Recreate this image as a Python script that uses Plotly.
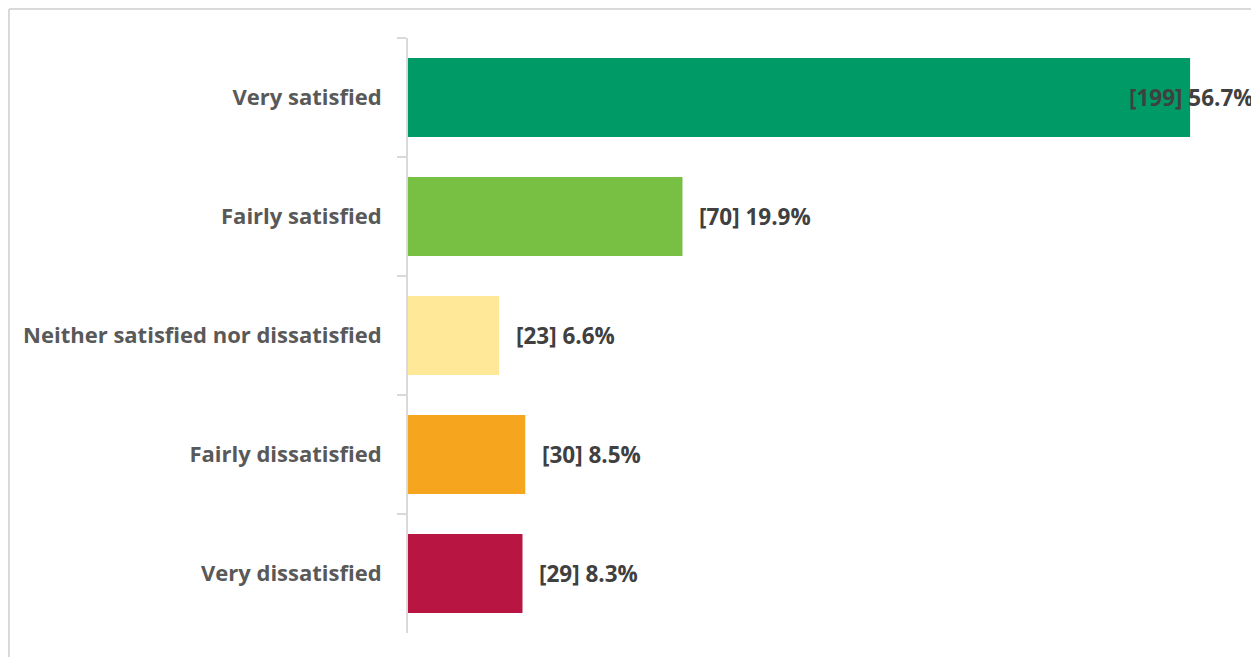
import plotly.graph_objects as go

categories = ['Very satisfied', 'Fairly satisfied', 'Neither satisfied nor dissatisfied',
              'Fairly dissatisfied', 'Very dissatisfied']
counts = [199, 70, 23, 30, 29]
percents = [56.7, 19.9, 6.6, 8.5, 8.3]
bar_colors = ['#009A66', '#77C044', '#FFE897', '#F6A61E', '#B81543']

# page body has an 8px margin, so the figure is a bit smaller than the window
W, H = 1251, 649
ml, mr, mt, mb = 400, 2, 30, 24
x_max = 61.55
FONT = 'Open Sans, Arial, sans-serif'

fig = go.Figure()

fig.add_trace(go.Bar(
    x=percents, y=categories, orientation='h',
    marker_color=bar_colors, marker_line_width=0,
    hoverinfo='skip',
))

# data labels: just outside bar end, pushed back inside plot when too long
for cat, n, p in zip(categories, counts, percents):
    label = f'[{n}] {p}%'
    if p > 50:
        fig.add_annotation(x=1, xref='paper', y=cat, yref='y', text=label,
                           showarrow=False, xanchor='right', xshift=-1)
    else:
        fig.add_annotation(x=p, xref='x', y=cat, yref='y', text=label,
                           showarrow=False, xanchor='left', xshift=15)
fig.update_annotations(font=dict(family=FONT, size=22.5, color='#404040', weight='bold'))

# outer frame (left and top edges visible)
pw, ph = W - ml - mr, H - mt - mb
def px(x): return (x - ml) / pw
def py(y): return (H - mb - y) / ph
fig.add_shape(type='line', xref='paper', yref='paper',
              x0=px(1), x1=px(1), y0=py(1), y1=py(H + 5),
              line=dict(color='#D9D9D9', width=2))
fig.add_shape(type='line', xref='paper', yref='paper',
              x0=px(1), x1=px(W + 5), y0=py(1), y1=py(1),
              line=dict(color='#D9D9D9', width=2))

fig.update_layout(
    width=W, height=H,
    margin=dict(l=ml, r=mr, t=mt, b=mb),
    paper_bgcolor='white', plot_bgcolor='white',
    font=dict(family=FONT, size=22, color='#595959'),
    bargap=0.335, showlegend=False,
)
fig.update_xaxes(range=[0, x_max], visible=False, fixedrange=True)
fig.update_yaxes(autorange='reversed', showline=True, linecolor='#D9D9D9', linewidth=2,
                 ticks='outside', tickson='boundaries', ticklen=9, tickcolor='#D9D9D9',
                 tickwidth=2, ticklabelstandoff=20, showgrid=False,
                 tickfont=dict(size=22, color='#595959', family=FONT, weight='bold'))

fig.write_html('out.html')
